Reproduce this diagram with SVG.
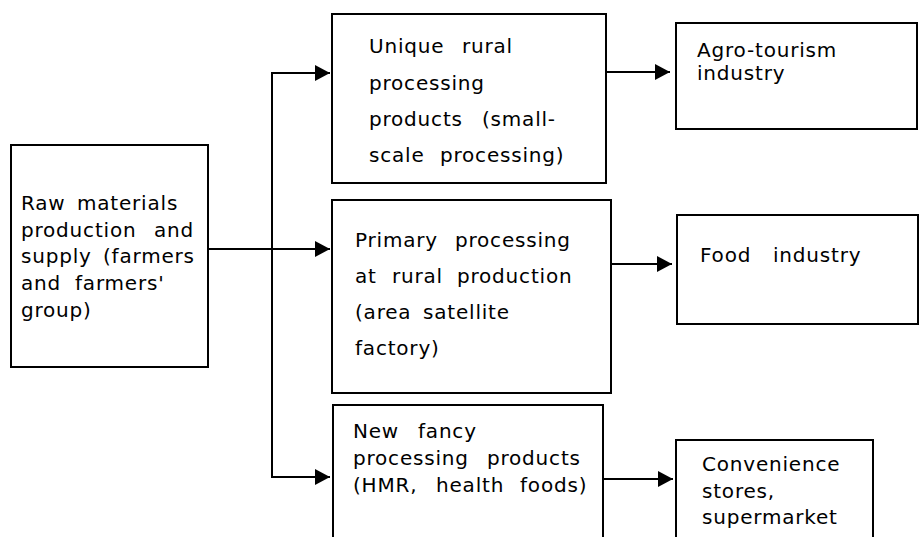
<svg xmlns="http://www.w3.org/2000/svg" width="921" height="537" viewBox="0 0 921 537">
<defs>
<style>
.box{fill:#fff;stroke:#000;stroke-width:2}
.t{font-family:"DejaVu Sans","Liberation Sans",sans-serif;font-size:20px;fill:#000;letter-spacing:0.8px}
.c{stroke:#000;stroke-width:2;fill:none}
</style>
<marker id="ah" markerUnits="userSpaceOnUse" markerWidth="15" markerHeight="16" refX="15" refY="8" orient="auto">
<path d="M0,0 L15,8 L0,16 z" fill="#000"/>
</marker>
</defs>
<rect width="921" height="537" fill="#fff"/>
<g id="connectors">
<line class="c" x1="208" y1="249" x2="330" y2="249" marker-end="url(#ah)"/>
<polyline class="c" points="330,73 272,73 272,477 330,477" marker-end="url(#ah)"/>
<line class="c" x1="272" y1="73" x2="330" y2="73" marker-end="url(#ah)"/>
<line class="c" x1="606" y1="72" x2="670" y2="72" marker-end="url(#ah)"/>
<line class="c" x1="611" y1="264" x2="672" y2="264" marker-end="url(#ah)"/>
<line class="c" x1="603" y1="479" x2="673" y2="479" marker-end="url(#ah)"/>
</g>
<g id="raw">
<rect class="box" x="11" y="145" width="197" height="222"/>
<text class="t"><tspan x="21" y="210">Raw</tspan><tspan x="77" y="210">materials</tspan><tspan x="21" y="237">production</tspan><tspan x="154" y="237">and</tspan><tspan x="21" y="263">supply</tspan><tspan x="103" y="263">(farmers</tspan><tspan x="21" y="290">and</tspan><tspan x="75" y="290">farmers'</tspan><tspan x="21" y="317">group)</tspan></text>
</g>
<g id="unique">
<rect class="box" x="332" y="14" width="274" height="169"/>
<text class="t"><tspan x="369" y="53">Unique</tspan><tspan x="462" y="53">rural</tspan><tspan x="369" y="90">processing</tspan><tspan x="369" y="126">products</tspan><tspan x="482" y="126">(small-</tspan><tspan x="369" y="162">scale</tspan><tspan x="440" y="162">processing)</tspan></text>
</g>
<g id="primary">
<rect class="box" x="332" y="200" width="279" height="193"/>
<text class="t"><tspan x="355" y="247">Primary</tspan><tspan x="455" y="247">processing</tspan><tspan x="355" y="283">at</tspan><tspan x="392" y="283">rural</tspan><tspan x="457" y="283">production</tspan><tspan x="355" y="319">(area</tspan><tspan x="423" y="319">satellite</tspan><tspan x="355" y="355">factory)</tspan></text>
</g>
<g id="fancy">
<rect class="box" x="333" y="405" width="270" height="150"/>
<text class="t"><tspan x="353" y="438">New</tspan><tspan x="418" y="438">fancy</tspan><tspan x="353" y="465">processing</tspan><tspan x="487" y="465">products</tspan><tspan x="353" y="492">(HMR,</tspan><tspan x="436" y="492">health</tspan><tspan x="520" y="492">foods)</tspan></text>
</g>
<g id="agro">
<rect class="box" x="676" y="23" width="241" height="106"/>
<text class="t"><tspan x="697" y="57">Agro-tourism</tspan><tspan x="697" y="80">industry</tspan></text>
</g>
<g id="food">
<rect class="box" x="677" y="215" width="241" height="109"/>
<text class="t"><tspan x="700" y="262">Food</tspan><tspan x="773" y="262">industry</tspan></text>
</g>
<g id="conv">
<rect class="box" x="676" y="440" width="197" height="110"/>
<text class="t"><tspan x="702" y="471">Convenience</tspan><tspan x="702" y="498">stores,</tspan><tspan x="702" y="524">supermarket</tspan></text>
</g>
</svg>
